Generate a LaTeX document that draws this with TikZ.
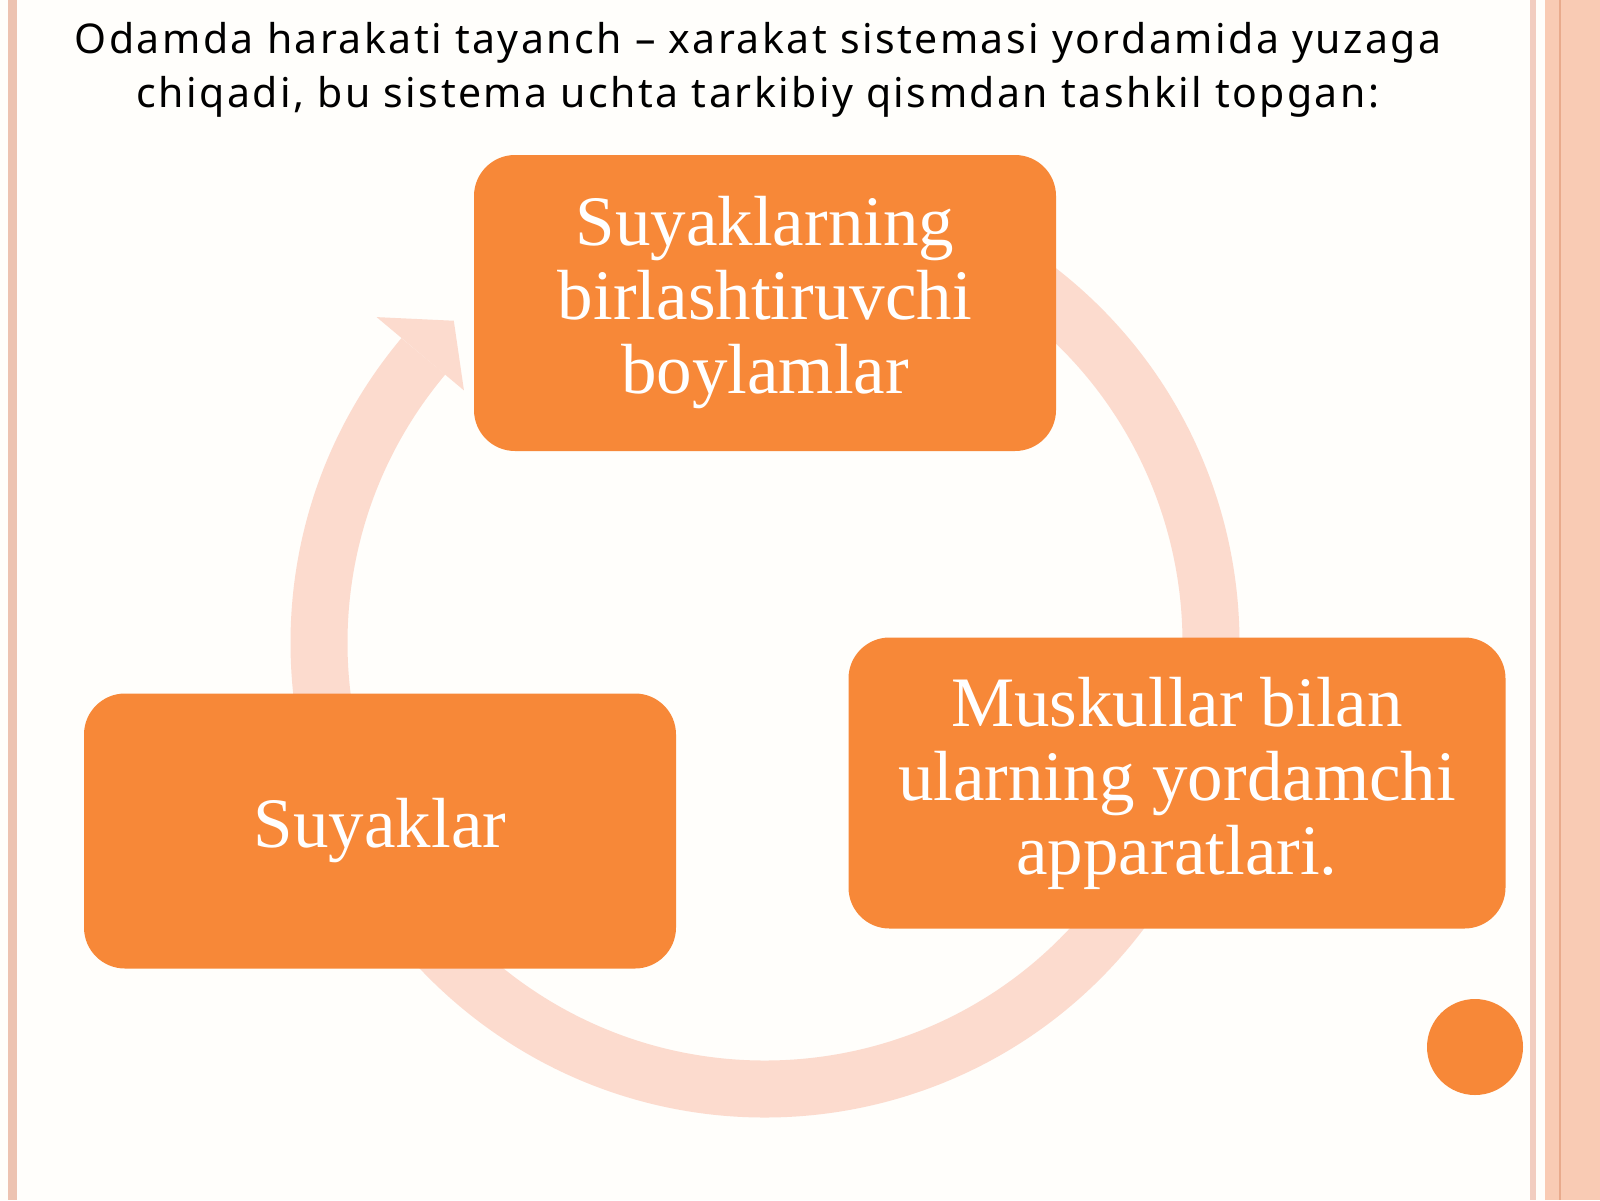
\documentclass[tikz,border=0pt]{standalone}
\usepackage{fontspec}
\setmainfont{Liberation Serif}
\newfontfamily\titlefont{Noto Sans}[LetterSpace=6]
\definecolor{boxorange}{RGB}{247,136,56}
\definecolor{ringpink}{RGB}{252,219,206}
\definecolor{edgepink}{RGB}{237,195,177}
\definecolor{thinpink}{RGB}{242,205,192}
\definecolor{bandpink}{RGB}{249,203,180}
\definecolor{bandline}{RGB}{233,170,140}
\definecolor{paper}{RGB}{255,254,251}

\begin{document}
\begin{tikzpicture}[x=0.3pt,y=0.3pt]
    \useasboundingbox (0,0) rectangle (1600,-1200);
    \fill[paper] (0,0) rectangle (1600,-1200);

    % page edges
    \fill[edgepink] (8,0) rectangle (17,-1200);
    \fill[thinpink] (1530,0) rectangle (1536,-1200);
    \fill[bandpink] (1545,0) rectangle (1600,-1200);
    \draw[bandline, line width=0.5pt] (1560,0) -- (1560,-1200);

    \node[font=\titlefont\fontsize{12.3}{16.2}\selectfont, align=center, inner sep=0] (0) at (758,-70)
        {Odamda harakati tayanch – xarakat sistemasi yordamida yuzaga\\chiqadi, bu sistema uchta tarkibiy qismdan tashkil topgan:};

    % ring with arrow
    \coordinate (c) at (765,-643);
    \draw[ringpink, line width=17.1pt] (c) ++(140:446) arc[start angle=140, end angle=450, radius=446];
    \fill[ringpink, shift={(c)}] (140:393) -- (134:448) -- (140:507) -- cycle;

    \begin{scope}[every node/.style={rounded corners=12.3pt, fill=boxorange, text=white, inner sep=0, align=center, font=\fontsize{21.3}{22.2}\selectfont}]
        \node[minimum width=174.6pt, minimum height=88.8pt] (1) at (765,-303) {Suyaklarning\\birlashtiruvchi\\boylamlar};
        \node[minimum width=197.1pt, minimum height=87.3pt] (2) at (1177,-783) {Muskullar bilan\\ularning yordamchi\\apparatlari.};
        \node[minimum width=177.6pt, minimum height=82.5pt] (3) at (380,-831) {Suyaklar};
    \end{scope}

    \node[circle, fill=boxorange, minimum size=28.8pt, inner sep=0] (4) at (1475,-1047) {};

\end{tikzpicture}
\end{document}
